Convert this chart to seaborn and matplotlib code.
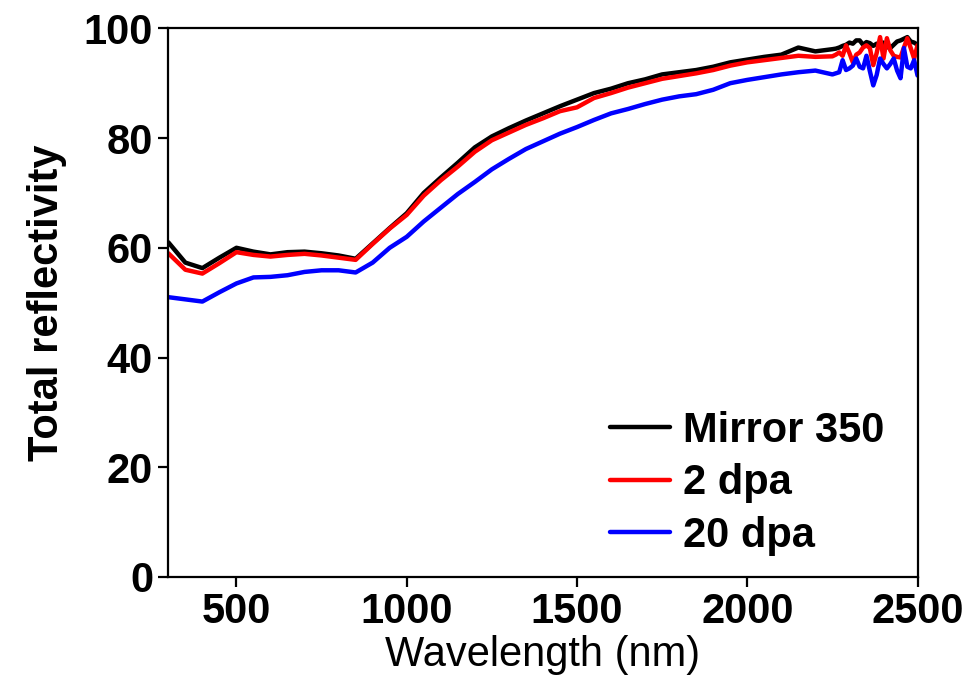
import numpy as np
import pandas as pd
import matplotlib
matplotlib.use("Agg")
import matplotlib.pyplot as plt
import seaborn as sns

# wavelength grid (nm): coarse over the smooth part, finer where the spectra get noisy
wavelength = [300, 350, 400, 450, 500, 550, 600, 650, 700, 750, 800, 850, 900, 950,
              1000, 1050, 1100, 1150, 1200, 1250, 1300, 1350, 1400, 1450, 1500, 1550,
              1600, 1650, 1700, 1750, 1800, 1850, 1900, 1950, 2000, 2050, 2100, 2150,
              2200, 2250, 2260, 2270, 2280, 2290, 2300, 2310, 2320, 2330, 2340, 2350,
              2360, 2370, 2380, 2390, 2400, 2410, 2420, 2430, 2440, 2450, 2460, 2470,
              2480, 2490, 2500]

mirror_350 = [61.0, 57.3, 56.3, 58.2, 60.0, 59.3, 58.8, 59.2, 59.3, 59.0, 58.6, 58.0, 60.8, 63.6,
              66.3, 70.0, 72.8, 75.5, 78.3, 80.3, 81.8, 83.2, 84.5, 85.8, 87.0, 88.2,
              89.0, 90.0, 90.7, 91.6, 92.0, 92.4, 93.0, 93.8, 94.3, 94.8, 95.2, 96.5,
              95.8, 96.2, 96.3, 96.5, 96.8, 97.0, 97.4, 97.2, 97.8, 97.8, 97.0, 97.5,
              97.3, 96.8, 97.2, 96.9, 97.4, 96.6, 96.4, 97.0, 97.6, 97.8, 98.1, 98.4,
              97.6, 97.4, 97.0]

dpa_2 = [59.0, 56.0, 55.3, 57.2, 59.2, 58.7, 58.4, 58.7, 58.9, 58.6, 58.2, 57.8, 60.7, 63.5,
         66.0, 69.5, 72.3, 74.8, 77.5, 79.6, 81.0, 82.4, 83.6, 84.9, 85.6, 87.3,
         88.2, 89.2, 90.0, 90.8, 91.3, 91.8, 92.4, 93.2, 93.8, 94.2, 94.6, 95.0,
         94.8, 94.9, 95.2, 95.6, 95.0, 96.9, 95.5, 93.8, 95.2, 95.6, 96.5, 96.9,
         96.4, 93.3, 95.5, 98.4, 94.5, 98.2, 96.0, 95.0, 94.8, 94.7, 96.5, 98.2,
         96.4, 94.5, 96.9]

dpa_20 = [51.0, 50.6, 50.2, 51.9, 53.5, 54.6, 54.7, 55.0, 55.6, 55.9, 55.9, 55.5, 57.3, 60.0,
          62.0, 64.8, 67.3, 69.8, 72.0, 74.3, 76.2, 78.0, 79.4, 80.8, 82.0, 83.3,
          84.5, 85.3, 86.2, 87.0, 87.6, 88.0, 88.8, 90.0, 90.6, 91.1, 91.6, 92.0,
          92.3, 91.6, 91.8, 92.0, 94.2, 92.4, 92.7, 93.2, 94.5, 93.0, 92.7, 95.0,
          92.2, 89.6, 91.5, 94.5, 93.5, 92.7, 93.5, 94.5, 92.3, 90.9, 96.4, 93.0,
          92.7, 94.2, 91.4]

series_names = ["Mirror 350", "2 dpa", "20 dpa"]
colors = ["black", "red", "blue"]

df = pd.concat([
    pd.DataFrame({"Wavelength": wavelength, "Reflectivity": vals, "Sample": name})
    for name, vals in zip(series_names, [mirror_350, dpa_2, dpa_20])
])

sns.set_style("ticks")
plt.rcParams['font.family'] = ['Liberation Sans', 'DejaVu Sans']
plt.rcParams['text.color'] = 'black'
plt.rcParams['axes.labelcolor'] = 'black'

fig = plt.figure(figsize=(9.73, 6.91), dpi=100)
ax = fig.add_axes([0.173, 0.165, 0.770, 0.794])

sns.lineplot(data=df, x="Wavelength", y="Reflectivity", hue="Sample",
             hue_order=series_names, palette=colors, linewidth=3.2, ax=ax)

ax.set_xlim(300, 2500)
ax.set_ylim(0, 100)
ax.set_xticks([500, 1000, 1500, 2000, 2500])
ax.set_yticks([0, 20, 40, 60, 80, 100])

for spine in ax.spines.values():
    spine.set_visible(True)
    spine.set_linewidth(1.6)
    spine.set_color("black")

ax.tick_params(direction="out", length=7, width=1.6, labelsize=30, pad=4, colors="black")
for lbl in ax.get_xticklabels() + ax.get_yticklabels():
    lbl.set_fontweight("bold")

ax.set_xlabel("Wavelength (nm)", fontsize=30, labelpad=2, color="black")
ax.set_ylabel("Total reflectivity", fontsize=30, fontweight="bold", labelpad=12, color="black")

leg = ax.legend(loc="lower right", frameon=False, fontsize=30, handlelength=1.45,
                handletextpad=0.3, labelspacing=0.3, borderaxespad=0.4,
                bbox_to_anchor=(1.0, -0.022))
for txt in leg.get_texts():
    txt.set_fontweight("bold")
    txt.set_color("black")
for line in leg.get_lines():
    line.set_linewidth(3.2)

fig.savefig("out.png", dpi=100)
